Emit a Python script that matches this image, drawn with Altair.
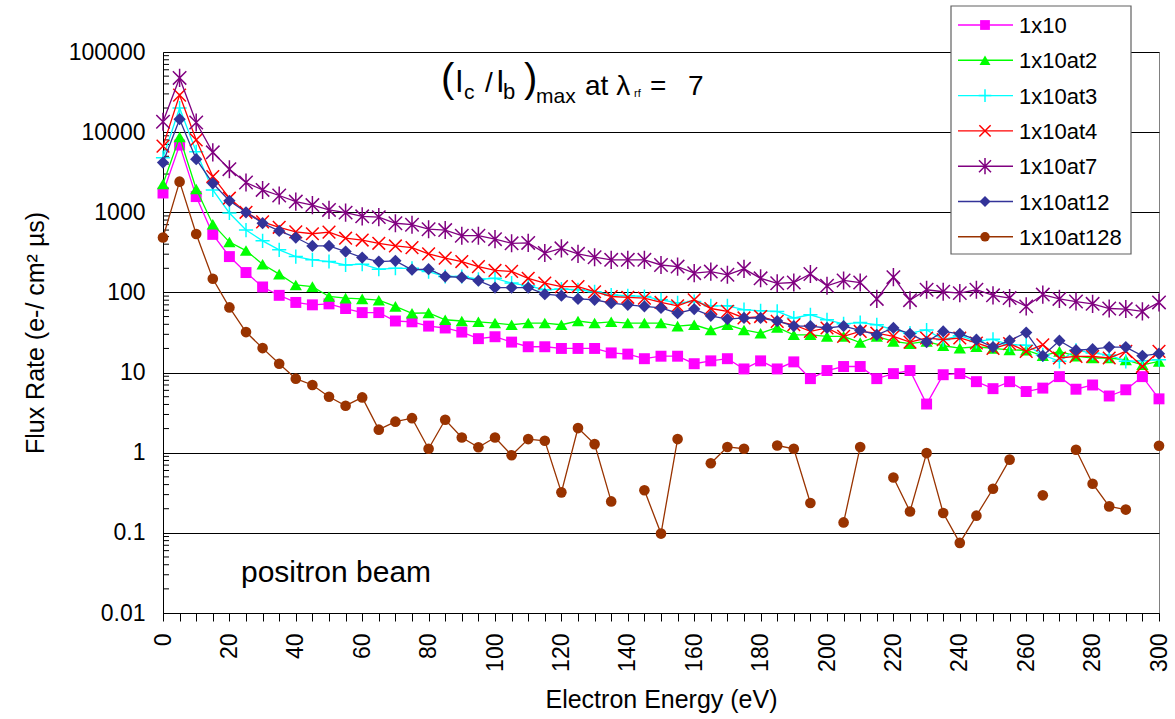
import altair as alt
import pandas as pd

energy = list(range(0, 301, 5))
series_names = ["1x10", "1x10at2", "1x10at3", "1x10at4", "1x10at7", "1x10at12", "1x10at128"]

s_1x10 = [1740, 6900, 1570, 530, 280, 177, 117, 92, 75, 70, 72,
          63, 56, 56, 44, 43, 38, 36, 32, 26.5, 28,
          24, 21, 21, 20, 20, 20, 17.6, 17, 14.9, 16,
          16, 12.9, 14, 14.9, 11.1, 14, 11.1, 13.6, 8.4, 10.6,
          11.9, 11.9, 8.4, 9.7, 10.6, 4.05, 9.4, 9.7, 7.7, 6.3,
          7.7, 5.8, 6.4, 8.9, 6.2, 7.0, 5.1, 6.1, 8.9, 4.7]
s_at2 = [2250, 8700, 1950, 710, 425, 333, 225, 169, 124, 118, 89,
         85, 83, 80, 67, 55, 55.6, 45.6, 44, 43, 41.5,
         39.5, 41.5, 41.5, 39.5, 44, 41.5, 43, 41.5, 41.5, 41.5,
         38, 39.5, 34, 39.5, 34, 31, 36.5, 29.6, 29.6, 28.3,
         28.3, 23.7, 28.3, 24.5, 23, 24.5, 21.6, 20.2, 21, 20,
         19.2, 19, 16.2, 18.4, 16, 15.2, 15.2, 14.4, 12.5, 13.8]
s_at3 = [4800, 20000, 5700, 1900, 980, 600, 440, 340, 280, 255, 243,
         220, 225, 195, 200, 200, 182, 158, 158, 146, 150,
         131, 121, 108, 110, 108, 102, 93, 91, 89, 81,
         74, 77, 68, 68, 61, 59, 58, 48, 52.6, 45.6,
         40.6, 42, 39.5, 34, 31, 34, 25.7, 28.8, 24.5, 26,
         22.2, 22, 16.6, 13.8, 19, 17.5, 16.6, 13.8, 14, 14.5]
s_at4 = [6700, 29000, 8000, 2790, 1500, 1000, 760, 650, 570, 540, 565,
         475, 450, 410, 380, 362, 303, 268, 243, 210, 188,
         183, 150, 131, 118, 118, 102, 89, 87, 85, 75,
         68, 81, 63, 58, 48, 50, 43.5, 39.5, 32.6, 36,
         28.3, 32.6, 31, 28.3, 24, 27, 25.7, 27, 23.4, 20,
         23, 18.4, 22.2, 15.2, 15.9, 15.9, 15.2, 18.4, 11.9, 18.4]
s_at7 = [13500, 47500, 13200, 5600, 3450, 2350, 1900, 1620, 1360, 1230, 1070,
         990, 890, 870, 730, 700, 615, 600, 510, 510, 462,
         410, 415, 310, 355, 303, 275, 255, 255, 255, 220,
         210, 174, 182, 166, 197, 150, 130, 133, 170, 121,
         141, 133, 83, 155, 80, 108, 102, 98, 108, 92,
         85, 67, 94, 83, 77, 72, 63, 62, 58, 75]
s_at12 = [4170, 14500, 4600, 2300, 1390, 1000, 730, 585, 484, 380, 380,
          324, 272, 243, 248, 192, 195, 158, 154, 140, 115,
          115, 115, 95, 91, 83, 81, 73.5, 70, 67, 64,
          55, 62, 51, 46.5, 48, 48, 44, 38, 38, 36,
          38, 33.5, 29.6, 36, 30.4, 24, 32.6, 30.4, 25.7, 20.8,
          25, 31.6, 16.2, 25, 19, 19.6, 20.8, 20.8, 16.2, 17.2]
s_at128 = [484, 2410, 535, 148, 65, 32, 20.2, 12.9, 8.4, 7.0, 5.0,
           3.86, 4.9, 1.94, 2.44, 2.7, 1.12, 2.58, 1.55, 1.17, 1.55,
           0.93, 1.48, 1.41, 0.32, 2.03, 1.28, 0.247, None, 0.34, 0.098,
           1.48, None, 0.74, 1.18, 1.12, None, 1.23, 1.12, 0.236, None,
           0.135, 1.18, None, 0.49, 0.185, 0.99, 0.177, 0.075, 0.164, 0.355,
           0.82, None, 0.294, None, 1.09, 0.41, 0.214, 0.195, None, 1.22]

all_series = [s_1x10, s_at2, s_at3, s_at4, s_at7, s_at12, s_at128]

colors = ["#FF00FF", "#00FF00", "#00FFFF", "#FF0000", "#800080", "#333399", "#993300"]
shapes = ["square", "triangle-up", "M-1,0L1,0M0,-1L0,1", "M-1,-1L1,1M-1,1L1,-1",
          "M-1,-1L1,1M-1,1L1,-1M0,-1.35L0,1.35", "diamond", "circle"]
filled = [True, True, False, False, False, True, True]
sizes = [120, 150, 200, 160, 180, 150, 113]

y_ticks = [0.01, 0.1, 1, 10, 100, 1000, 10000, 100000]
minor_ticks = [k * 10.0 ** e for e in range(-2, 5) for k in range(2, 10)]

FONT = "Liberation Sans"

xscale = alt.Scale(domain=[0, 300], nice=False, zero=False)
yscale = alt.Scale(type="log", domain=[0.01, 100000], nice=False)

xaxis = alt.Axis(values=energy, labelExpr="datum.value % 20 == 0 ? datum.label : ''",
                 labelAngle=270, tickSize=8, tickColor="black", labelPadding=12,
                 grid=False, title="Electron Energy (eV)", titlePadding=16,
                 labelOverlap=False, labelFlush=False, labelBound=False,
                 domainColor="black")
yaxis = alt.Axis(values=y_ticks, format="~g", grid=True, gridColor="black", gridWidth=1,
                 ticks=False, labelPadding=18, title="Flux Rate (e-/ cm² µs)",
                 titlePadding=20, labelOverlap=False, labelFlush=False, labelBound=False,
                 domainColor="black")


def X():
    return alt.X("x:Q", scale=xscale, axis=xaxis)


def Y():
    return alt.Y("value:Q", scale=yscale, axis=yaxis)


layers = []

# minor ticks on the y axis (inside)
minor_df = pd.DataFrame({"value": minor_ticks})
layers.append(alt.Chart(minor_df).mark_rule(color="black", strokeWidth=1).encode(
    y=Y(), x=alt.value(0), x2=alt.value(6)))

for name, vals, col, shp, fil, sz in zip(series_names, all_series, colors, shapes, filled, sizes):
    df = pd.DataFrame({"x": energy, "value": vals})
    df["value"] = pd.to_numeric(df["value"])
    layers.append(alt.Chart(df).mark_line(color=col, strokeWidth=1.3).encode(x=X(), y=Y()))
    layers.append(alt.Chart(df).mark_point(shape=shp, filled=fil, size=sz, color=col,
                                           opacity=1, strokeWidth=1.5).encode(x=X(), y=Y()))

one = alt.Data(values=[{}])

# positron beam label
layers.append(alt.Chart(one).mark_text(text="positron beam", font=FONT, fontSize=30,
                                       align="left", baseline="alphabetic", color="black")
              .encode(x=alt.value(78), y=alt.value(530)))

# title annotation pieces: (text, x, baseline y, size)
title_parts = [("(", 278, 40, 40), ("I", 292, 40, 31), ("c", 301, 47, 21), ("/", 322, 40, 28),
               ("I", 333, 40, 31), ("b", 340, 47, 22), (")", 361, 40, 40), ("max", 373, 51, 21),
               ("at λ", 422, 43, 28), ("rf", 471, 45, 11), ("=", 487, 43, 28), ("7", 525, 43, 28)]
for t, px, py, fs in title_parts:
    layers.append(alt.Chart(one).mark_text(text=t, font=FONT, fontSize=fs, align="left",
                                           baseline="alphabetic", color="black")
                  .encode(x=alt.value(px), y=alt.value(py)))

# legend box
layers.append(alt.Chart(one).mark_rect(fill="white", stroke="#606060", strokeWidth=1.2).encode(
    x=alt.value(788), x2=alt.value(968), y=alt.value(-46), y2=alt.value(202)))
for i, (name, col, shp, fil, sz) in enumerate(zip(series_names, colors, shapes, filled, sizes)):
    ly = -27 + 35.3 * i
    layers.append(alt.Chart(one).mark_rule(color=col, strokeWidth=1.4).encode(
        x=alt.value(795), x2=alt.value(850), y=alt.value(ly)))
    layers.append(alt.Chart(one).mark_point(shape=shp, filled=fil, size=sz * 0.8, color=col,
                                            opacity=1, strokeWidth=1.5).encode(
        x=alt.value(822), y=alt.value(ly)))
    layers.append(alt.Chart(one).mark_text(text=name, font=FONT, fontSize=22, align="left",
                                           baseline="middle", color="black").encode(
        x=alt.value(856), y=alt.value(ly + 1)))

chart = alt.layer(*layers).properties(
    width=996, height=561,
    padding={"left": 163, "top": 52, "right": 16, "bottom": 106},
    autosize=alt.AutoSizeParams(type="none"),
    background="white",
).configure_view(stroke="#808080", strokeWidth=1).configure_axis(
    labelFont=FONT, titleFont=FONT, labelFontSize=23, titleFontSize=25,
    labelColor="black", titleColor="black", titleFontWeight="normal",
)

chart.save("out.html", embed_options={"renderer": "svg", "actions": False})
